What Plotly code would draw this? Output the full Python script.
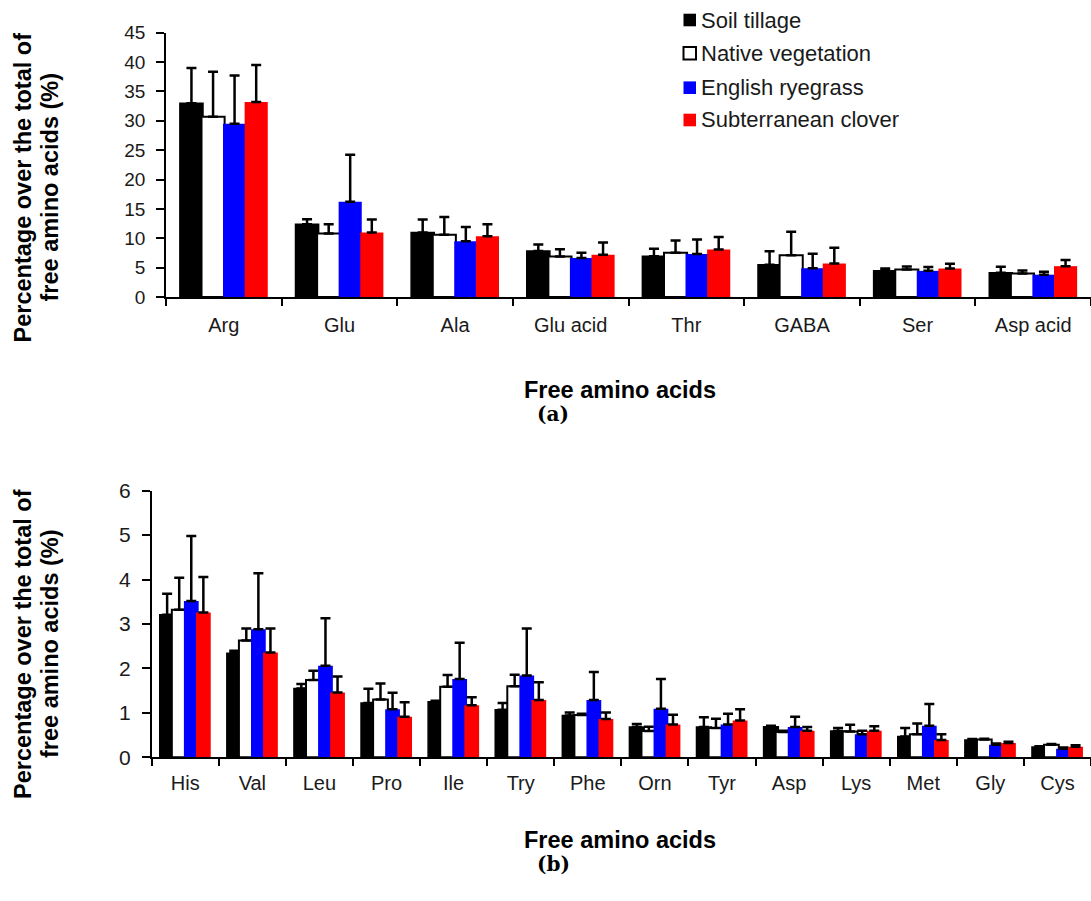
import plotly.graph_objects as go

# ---------------- data (panel a) ----------------
cats_a = ["Arg", "Glu", "Ala", "Glu acid", "Thr", "GABA", "Ser", "Asp acid"]
tillage_a = [33.0, 12.4, 11.0, 7.85, 6.95, 5.5, 4.45, 4.15]
tillage_a_err = [6.0, 0.85, 2.2, 1.1, 1.25, 2.3, 0.4, 1.0]
native_a = [30.7, 10.8, 10.6, 6.9, 7.55, 7.1, 4.7, 4.0]
native_a_err = [7.65, 1.6, 3.0, 1.25, 2.05, 4.0, 0.5, 0.5]
ryegrass_a = [29.5, 16.2, 9.5, 6.65, 7.3, 4.9, 4.45, 3.8]
ryegrass_a_err = [8.2, 8.0, 2.4, 0.9, 2.5, 2.45, 0.65, 0.5]
clover_a = [33.2, 11.0, 10.35, 7.2, 8.1, 5.7, 4.85, 5.25]
clover_a_err = [6.3, 2.2, 2.05, 2.1, 2.1, 2.7, 0.8, 1.05]

# ---------------- data (panel b) ----------------
cats_b = ["His", "Val", "Leu", "Pro", "Ile", "Try", "Phe", "Orn", "Tyr", "Asp", "Lys", "Met", "Gly", "Cys"]
tillage_b = [3.21, 2.34, 1.55, 1.22, 1.25, 1.07, 0.94, 0.68, 0.68, 0.69, 0.59, 0.47, 0.39, 0.23]
tillage_b_err = [0.47, 0.06, 0.10, 0.32, 0.02, 0.15, 0.07, 0.07, 0.22, 0.02, 0.07, 0.19, 0.02, 0.02]
native_b = [3.32, 2.63, 1.74, 1.30, 1.59, 1.60, 0.95, 0.59, 0.66, 0.57, 0.58, 0.52, 0.40, 0.28]
native_b_err = [0.72, 0.27, 0.21, 0.36, 0.26, 0.26, 0.03, 0.10, 0.21, 0.03, 0.15, 0.24, 0.02, 0.02]
ryegrass_b = [3.52, 2.88, 2.06, 1.08, 1.76, 1.84, 1.29, 1.09, 0.74, 0.68, 0.52, 0.71, 0.28, 0.19]
ryegrass_b_err = [1.46, 1.26, 1.07, 0.37, 0.82, 1.06, 0.63, 0.67, 0.24, 0.23, 0.08, 0.49, 0.03, 0.03]
clover_b = [3.26, 2.36, 1.46, 0.91, 1.17, 1.29, 0.86, 0.74, 0.83, 0.60, 0.60, 0.39, 0.32, 0.24]
clover_b_err = [0.80, 0.54, 0.36, 0.33, 0.18, 0.40, 0.15, 0.22, 0.25, 0.08, 0.10, 0.13, 0.03, 0.03]

series_names = ["Soil tillage", "Native vegetation", "English ryegrass", "Subterranean clover"]

W, H = 1091, 901
FONT = "Liberation Sans, Arial, sans-serif"
TXT = "#1a1a1a"

styles = [
    dict(color="black", line=dict(color="black", width=1.5)),
    dict(color="white", line=dict(color="black", width=2)),
    dict(color="#0000ff", line=dict(color="#0000ff", width=0)),
    dict(color="#ff0000", line=dict(color="#ff0000", width=0)),
]

fig = go.Figure()

def add_panel(cats, vals, errs, xa, ya, width, centers):
    for i, (v, e) in enumerate(zip(vals, errs)):
        fig.add_trace(go.Bar(
            x=cats, y=v, name=series_names[i], showlegend=False,
            marker=dict(color=styles[i]["color"], line=styles[i]["line"]),
            width=width, offset=centers[i] - width / 2,
            error_y=dict(type="data", array=e, arrayminus=[0] * len(e), symmetric=False,
                         color="black", thickness=2.5, width=5),
            xaxis=xa, yaxis=ya,
        ))

add_panel(cats_a, [tillage_a, native_a, ryegrass_a, clover_a],
          [tillage_a_err, native_a_err, ryegrass_a_err, clover_a_err],
          "x", "y", 0.20, [-0.28, -0.093, 0.093, 0.28])
add_panel(cats_b, [tillage_b, native_b, ryegrass_b, clover_b],
          [tillage_b_err, native_b_err, ryegrass_b_err, clover_b_err],
          "x2", "y2", 0.22, [-0.27, -0.09, 0.09, 0.27])

axis_common = dict(showline=True, linecolor="black", linewidth=1.5, ticks="outside",
                   tickcolor="black", tickwidth=1.5, showgrid=False, zeroline=False,
                   automargin=False)

fig.update_layout(
    width=W, height=H, margin=dict(l=0, r=0, t=0, b=0, pad=0, autoexpand=False),
    paper_bgcolor="white", plot_bgcolor="white", barmode="overlay", showlegend=False,
    xaxis=dict(axis_common, domain=[166 / W, 1.0], anchor="y", range=[-0.5, 7.5],
               tickson="boundaries", ticklen=7, ticklabelstandoff=9,
               tickfont=dict(family=FONT, color=TXT, size=20)),
    yaxis=dict(axis_common, domain=[1 - 297 / H, 1 - 32.7 / H], anchor="x", range=[0, 45],
               dtick=5, ticklen=8, ticklabelstandoff=7,
               tickfont=dict(family=FONT, color=TXT, size=19)),
    xaxis2=dict(axis_common, domain=[151.7 / W, 1.0], anchor="y2", range=[-0.5, 13.5],
                tickson="boundaries", ticklen=7, ticklabelstandoff=7,
                tickfont=dict(family=FONT, color=TXT, size=20)),
    yaxis2=dict(axis_common, domain=[1 - 757.3 / H, 1 - 490.7 / H], anchor="x2", range=[0, 6],
                dtick=1, ticklen=8, ticklabelstandoff=7,
                tickfont=dict(family=FONT, color=TXT, size=21)),
)

# axis titles and panel labels
for yc in (187.5, 644):
    for line, xc in (("Percentage over the total of", 23), ("free amino acids (%)", 50)):
        fig.add_annotation(text=f"<b>{line}</b>", xref="paper", yref="paper",
                           x=xc / W, y=1 - yc / H, textangle=-90,
                           xanchor="center", yanchor="middle", showarrow=False,
                           font=dict(family=FONT, size=23.5, color="black"))
for yy in (389.5, 839.5):
    fig.add_annotation(text="<b>Free amino acids</b>", xref="paper", yref="paper",
                       x=620 / W, y=1 - yy / H, xanchor="center", yanchor="middle",
                       showarrow=False, font=dict(family=FONT, size=23.5, color="black"))
for lab, yy in (("(a)", 414), ("(b)", 864)):
    fig.add_annotation(text=f"<b>{lab}</b>", xref="paper", yref="paper", x=553 / W, y=1 - yy / H,
                       xanchor="center", yanchor="middle", showarrow=False,
                       font=dict(family="DejaVu Serif, serif", size=20, color="black"))

# legend (manual, to match spacing of the original)
leg_rows = [20, 53.3, 87.7, 120]
for i, name in enumerate(series_names):
    cy = leg_rows[i]
    fig.add_shape(type="rect", xref="paper", yref="paper",
                  x0=683.5 / W, x1=696 / W, y0=1 - (cy + 6.3) / H, y1=1 - (cy - 6.3) / H,
                  fillcolor=styles[i]["color"],
                  line=dict(color="black" if i < 2 else styles[i]["color"], width=2 if i == 1 else 0))
    fig.add_annotation(text=name, xref="paper", yref="paper", x=699 / W, y=1 - cy / H,
                       xanchor="left", yanchor="middle", showarrow=False,
                       font=dict(family=FONT, size=22, color=TXT))

fig.write_html("out.html", config={"displayModeBar": False},
               post_script="document.body.style.margin='0';document.body.style.overflow='hidden';")
